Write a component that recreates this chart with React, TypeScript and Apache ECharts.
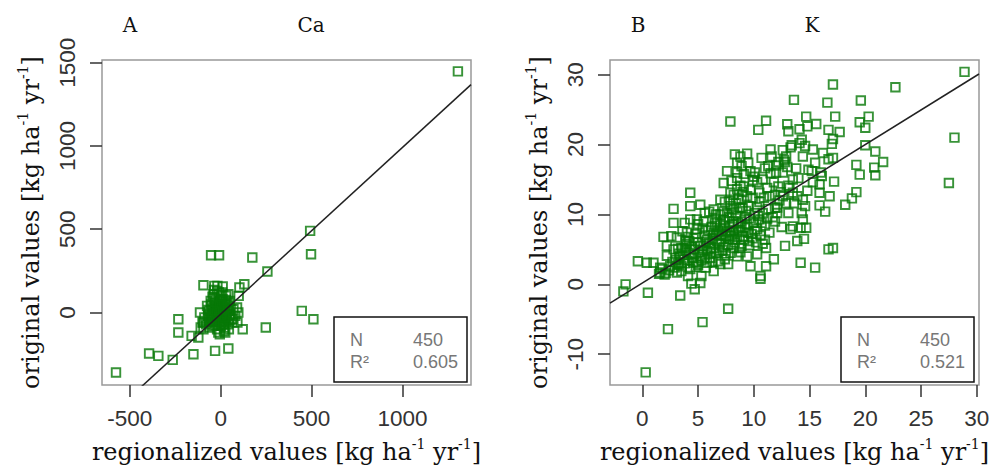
import React, { useEffect, useRef } from "react";
import * as echarts from "echarts";

// Tick labels
const caTicksX = [-500, 0, 500, 1000];
const caTicksY = [0, 500, 1000, 1500];
const kTicksX = [0, 5, 10, 15, 20, 25, 30];
const kTicksY = [-10, 0, 10, 20, 30];

// Axis extents (R default 4% padding)
const caRangeX = [-653, 1377];
const caRangeY = [-435, 1516];
const kRangeX = [-2.9, 30.2];
const kRangeY = [-14.4, 32.1];

// Panel labels
const panelLetters = ["A", "B"];
const panelElements = ["Ca", "K"];

// Fit lines
const caFit = { slope: 1.0, intercept: -9 };
const kFit = { slope: 0.99, intercept: 0.2 };

// Statistics
const caStats = { n: "450", r2: "0.605" };
const kStats = { n: "450", r2: "0.521" };

// Ca: [regionalized, original]
const caPoints: [number, number][] = [
  [1305, 1448], [492, 490], [497, 350], [446, 10], [510, -40], [248, -90], [257, 246],
  [174, 330], [-53, 344], [-9, 344], [-95, 164], [-35, 160], [11, 156], [103, 150],
  [130, 170], [99, 100], [42, 110], [-40, 110], [121, -100], [-233, -40], [-233, -120],
  [-123, -150], [-160, -140], [-150, -250], [-31, -230], [42, -216], [-264, -284],
  [-394, -246], [-343, -260], [-576, -360], [-13, -120], [18, -110], [-114, 0], [-95, -60],
  [92, -60], [97, 0], [70, -40],
  [-70, -20], [-60, 10], [-50, -40], [-45, 30], [-40, -10], [-35, 60], [-30, -60], [-25, 20],
  [-20, -30], [-15, 40], [-10, -5], [-5, 70], [0, -20], [5, 15], [10, -50], [15, 30],
  [20, -10], [25, 50], [30, -30], [35, 10], [40, -70], [45, 40], [50, -15], [55, 20],
  [60, -40], [-80, -70], [-60, -90], [-40, -80], [-20, -100], [0, -80], [20, -90],
  [-55, 70], [-30, 90], [-10, 120], [10, 80], [30, 100], [50, 70], [70, 20], [-90, -30],
  [-75, 40], [65, -60], [80, -20], [-65, -55], [-12, -45], [8, 45], [28, -55], [-28, -75],
  [38, 65], [-48, -15], [12, 5], [-5, -130], [-95, -100], [-110, -90], [-100, -60],
  [90, 30], [-20, 130], [25, -120], [45, -100],
  [-50, 0], [-30, 30], [-15, -15], [5, 40], [20, 20], [35, -10], [-42, -35], [-8, 25],
  [15, -35], [-22, 55], [28, 75], [-58, -28], [2, 100], [-18, 160], [-36, 135],
  [-68, 15], [-52, 48], [-38, -55], [-24, -8], [-3, -55], [18, 58], [32, 32], [48, -42],
  [-62, -48], [-6, 48], [12, -72], [40, 12], [-33, 12], [22, -28], [-45, 95], [8, 120],
];

// K: [regionalized, original]
const kPoints: [number, number][] = [
  [28.9, 30.4], [22.7, 28.2], [17.1, 28.6], [13.6, 26.4], [16.6, 26.0], [19.6, 26.3],
  [7.9, 23.3], [11.1, 23.4], [10.4, 22.1], [13.0, 22.9], [14.7, 24.0], [15.6, 22.95],
  [17.3, 24.0], [20.3, 24.0], [19.5, 23.2], [20.0, 22.4], [17.7, 21.8], [16.7, 22.1],
  [14.1, 22.2], [13.1, 21.9], [14.8, 22.6], [28.0, 21.0], [20.0, 19.9], [20.9, 19.0],
  [21.6, 17.5], [20.8, 16.7], [20.9, 15.6], [19.5, 15.7], [19.2, 17.1], [27.5, 14.5],
  [19.2, 13.2], [18.8, 12.3], [18.2, 11.4], [17.2, 14.7], [16.8, 12.6], [16.4, 10.4],
  [15.9, 11.3], [15.9, 13.1], [15.9, 14.3], [16.1, 15.5], [15.2, 16.2], [17.1, 5.2],
  [16.7, 5.0], [15.5, 2.4], [14.2, 3.1], [17.1, 18.1], [16.7, 17.9], [16.2, 18.8],
  [17.0, 20.1], [17.1, 20.8], [15.3, 19.3], [14.4, 18.3], [14.6, 19.8], [14.1, 20.2],
  [13.4, 19.9], [12.9, 18.3], [14.3, 20.7], [12.8, 17.5], [12.2, 17.5], [11.5, 19.3],
  [11.6, 18.3], [10.7, 18.1], [11.3, 16.9], [12.0, 16.0], [12.6, 16.0], [13.1, 14.1],
  [13.5, 15.0], [13.9, 12.6], [13.5, 13.1], [14.4, 12.1], [14.6, 11.2], [14.3, 10.2],
  [14.4, 9.3], [14.7, 8.1], [14.2, 8.1], [14.5, 6.5], [13.9, 6.2], [13.3, 7.9],
  [13.5, 8.3], [12.5, 8.2], [12.8, 5.5], [11.9, 9.0], [12.1, 10.2], [11.9, 10.95],
  [12.3, 12.0], [12.6, 12.6], [12.9, 11.6], [13.1, 10.2], [11.8, 3.6], [11.1, 2.6],
  [10.6, 1.2], [10.6, 0.8], [9.7, 2.6], [10.3, 4.3], [9.4, 4.0], [8.9, 5.5], [11.1, 5.2],
  [11.0, 6.4], [11.4, 7.4], [10.5, 9.3], [10.3, 7.9], [10.1, 10.2], [9.5, 11.2],
  [9.9, 12.4], [10.5, 13.1], [11.2, 13.8], [11.4, 12.6], [10.8, 15.0], [10.3, 14.6],
  [9.7, 16.2], [10.1, 16.0], [9.5, 17.4], [9.4, 18.7], [8.8, 18.3], [8.3, 18.6],
  [8.5, 17.4], [8.9, 16.9], [8.5, 16.0], [7.6, 16.2], [8.0, 14.8], [7.3, 14.5],
  [7.9, 13.1], [8.5, 13.6], [9.1, 14.0], [9.4, 12.6], [8.9, 12.1], [7.9, 12.1],
  [7.0, 12.1], [8.2, 10.7], [7.6, 10.2], [8.8, 10.95], [6.4, 10.7], [5.6, 10.2],
  [5.2, 11.4], [4.3, 11.2], [4.3, 13.1], [2.8, 10.8], [2.8, 8.8], [3.8, 8.8], [4.3, 9.3],
  [4.9, 9.3], [5.5, 9.0], [6.5, 9.3], [7.3, 9.3], [8.2, 9.0], [4.9, 7.9], [4.0, 7.4],
  [3.1, 6.7], [1.9, 6.8], [2.6, 6.9], [2.2, 4.1], [1.6, 2.4], [2.0, 1.4], [2.5, 2.6],
  [3.1, 1.7], [3.5, 2.6], [4.1, 1.2], [4.4, 0.1], [4.7, -0.7], [5.2, 0.2], [5.3, 1.2],
  [6.4, 1.9], [7.0, 2.9], [7.4, 3.6], [7.7, 2.9], [7.9, 4.5], [8.5, 4.0], [8.2, 5.2],
  [9.1, 6.4], [9.5, 7.4], [-0.4, 3.3], [0.4, 3.1], [1.0, 3.1], [-1.5, 0.0], [-1.7, -1.0],
  [0.5, -1.2], [3.4, -1.6], [7.7, -3.5], [5.4, -5.4], [2.3, -6.4], [0.3, -12.6],
  [3.9, 4.8], [3.5, 5.2], [5.2, 5.5], [5.8, 6.4], [6.7, 6.2], [6.4, 7.4], [7.1, 7.1],
  [7.9, 7.4], [8.8, 8.3], [5.2, 4.0], [5.8, 3.1], [4.6, 3.1], [3.4, 4.0], [2.8, 5.0],
  [2.2, 5.5], [1.6, 1.7],
  [3.0, 3.5], [3.3, 2.8], [3.6, 4.2], [3.8, 3.0], [4.0, 5.8], [4.2, 4.5], [4.5, 3.8],
  [4.7, 5.0], [4.8, 2.5], [5.0, 6.0], [5.1, 4.6], [5.3, 3.4], [5.5, 5.5], [5.6, 7.0],
  [5.8, 4.8], [6.0, 5.9], [6.1, 3.8], [6.3, 6.6], [6.4, 5.2], [6.6, 4.4], [6.8, 7.6],
  [6.9, 5.8], [7.1, 6.4], [7.2, 4.9], [7.4, 8.4], [7.5, 6.9], [7.7, 5.6], [7.8, 9.6],
  [8.0, 7.0], [8.1, 8.6], [8.3, 6.0], [8.4, 9.8], [8.6, 7.8], [8.7, 5.2], [8.9, 9.0],
  [9.0, 6.9], [9.2, 8.1], [9.3, 10.5], [9.6, 9.4], [9.8, 7.2], [10.0, 8.8], [10.2, 6.0],
  [10.4, 9.8], [10.6, 7.0], [10.8, 5.8], [11.0, 8.4], [6.2, 8.2], [5.4, 8.0], [4.6, 6.6],
  [3.9, 6.2], [3.2, 5.1], [2.7, 3.2], [2.4, 2.0], [6.7, 9.0], [7.3, 10.4], [7.9, 11.2],
  [8.2, 12.8], [8.5, 15.2], [8.8, 14.1], [9.1, 15.8], [9.7, 13.5], [9.9, 14.9],
  [10.5, 11.8], [10.9, 12.4], [11.3, 10.8], [11.7, 9.6], [12.1, 11.0], [12.4, 13.2],
  [11.8, 14.6], [11.5, 15.9], [12.0, 17.0], [12.7, 17.8], [13.3, 19.6], [13.8, 16.6],
  [14.0, 15.2], [14.9, 16.4], [15.5, 17.4], [13.2, 13.8], [13.6, 11.6], [14.8, 13.4],
  [15.3, 14.6], [16.0, 16.0], [1.5, 1.5], [1.8, 2.2], [2.1, 1.6],
  [3.7, 3.6], [4.3, 2.2], [4.9, 3.2], [5.7, 2.4], [6.2, 4.6], [6.8, 3.3], [7.3, 5.3],
  [7.6, 7.6], [8.1, 6.4], [8.6, 8.8], [9.4, 8.6], [9.9, 6.6], [5.9, 7.7], [4.4, 5.4],
  [3.3, 4.4], [2.9, 2.4], [6.5, 8.4], [7.0, 10.0], [8.4, 11.6], [9.0, 11.0], [6.0, 10.4],
  [5.0, 8.6], [3.6, 7.6], [4.1, 6.8], [6.9, 6.9], [7.8, 8.2], [8.9, 7.5], [9.6, 5.6],
  [3.2, 3.0], [3.5, 1.9], [4.0, 3.4], [4.2, 6.2], [4.6, 4.3], [5.0, 2.8], [5.4, 4.9],
  [5.7, 6.1], [6.1, 5.2], [6.3, 3.2], [6.6, 7.1], [6.9, 4.8], [7.2, 7.9], [7.5, 4.4],
  [7.8, 6.5], [8.2, 7.6], [8.5, 6.8], [8.8, 4.6], [9.2, 9.6], [9.5, 6.2], [10.1, 7.6],
  [10.7, 8.8], [5.6, 3.8], [4.8, 7.2], [3.8, 5.2], [7.0, 8.6], [8.0, 10.2], [6.6, 10.0],
  [10.3, 11.0], [11.2, 9.4], [9.0, 13.2], [8.6, 12.2], [7.4, 11.8], [10.0, 15.4],
  [11.0, 16.6], [12.2, 14.0], [13.0, 16.8], [12.6, 19.2], [11.9, 12.8], [10.8, 10.2],
];

const SERIF = "'DejaVu Serif', 'Liberation Serif', serif";
const SANS = "'Liberation Sans', Arial, sans-serif";

const unitName = (label: string) =>
  `{a|${label} [kg ha}{s|-1}{a| yr}{s|-1}{a|]}`;

const nameRich = {
  a: { fontSize: 24, fontFamily: SERIF, color: "#111", lineHeight: 30 },
  s: { fontSize: 14, fontFamily: SERIF, color: "#111", lineHeight: 30, verticalAlign: "top" as const },
};

function makeAxis(
  gridIndex: number,
  range: number[],
  ticks: number[],
  isY: boolean,
  name: string
) {
  return {
    type: "value" as const,
    gridIndex,
    min: range[0],
    max: range[1],
    axisLine: { show: false, onZero: false },
    splitLine: { show: false },
    axisTick: {
      show: true,
      inside: false,
      length: 12,
      customValues: ticks,
      lineStyle: { color: "#333", width: 1.5 },
    },
    axisLabel: {
      customValues: ticks,
      formatter: (v: number) => String(v),
      fontSize: 22.5,
      fontFamily: SANS,
      color: "#333",
      margin: isY ? 23 : 22,
      rotate: isY ? 90 : 0,
    },
    name,
    nameLocation: "middle" as const,
    nameGap: isY ? 56 : 52,
    nameRotate: isY ? 90 : 0,
    nameTextStyle: { rich: nameRich },
  };
}

function fitLine(range: number[], fit: { slope: number; intercept: number }) {
  return range.map((x) => [x, fit.slope * x + fit.intercept]);
}

function statsBox(left: number, stats: { n: string; r2: string }) {
  const txt = (text: string, x: number, y: number) => ({
    type: "text",
    x,
    y,
    z: 101,
    style: {
      text,
      fontSize: 18,
      fontFamily: SANS,
      fill: "#777",
      verticalAlign: "middle",
      textAlign: "left",
    },
  });
  return [
    {
      type: "rect",
      z: 100,
      shape: { x: left, y: 317, width: 133, height: 65 },
      style: { fill: "#fff", stroke: "#111", lineWidth: 1.5 },
    },
    txt("N", left + 16, 340),
    txt(stats.n, left + 79, 340),
    txt("R²", left + 16, 362),
    txt(stats.r2, left + 79, 362),
  ];
}

function titleText(text: string, x: number) {
  return {
    type: "text",
    x,
    y: 25,
    style: {
      text,
      fontSize: 20,
      fontFamily: SERIF,
      fill: "#111",
      textAlign: "center",
      verticalAlign: "middle",
    },
  };
}

export default function App() {
  const ref = useRef<HTMLDivElement>(null);

  useEffect(() => {
    if (!ref.current) return;
    const chart = echarts.init(ref.current, undefined, { renderer: "svg" });
    const scatterStyle = {
      symbol: "rect",
      symbolSize: 8.5,
      itemStyle: { color: "rgba(0,0,0,0)", borderColor: "#067806", borderWidth: 1.9 },
    };
    chart.setOption({
      animation: false,
      backgroundColor: "#fff",
      grid: [
        { left: 102, top: 60, width: 369, height: 326, show: true, borderColor: "#999", borderWidth: 1.5, backgroundColor: "transparent" },
        { left: 610, top: 60, width: 369, height: 326, show: true, borderColor: "#999", borderWidth: 1.5, backgroundColor: "transparent" },
      ],
      xAxis: [
        makeAxis(0, caRangeX, caTicksX, false, unitName("regionalized values")),
        makeAxis(1, kRangeX, kTicksX, false, unitName("regionalized values")),
      ],
      yAxis: [
        makeAxis(0, caRangeY, caTicksY, true, unitName("original values")),
        makeAxis(1, kRangeY, kTicksY, true, unitName("original values")),
      ],
      series: [
        { type: "scatter", xAxisIndex: 0, yAxisIndex: 0, data: caPoints, ...scatterStyle },
        { type: "scatter", xAxisIndex: 1, yAxisIndex: 1, data: kPoints, ...scatterStyle },
        {
          type: "line", xAxisIndex: 0, yAxisIndex: 0, data: fitLine(caRangeX, caFit),
          showSymbol: false, clip: true, lineStyle: { color: "#222", width: 1.5 }, z: 5,
        },
        {
          type: "line", xAxisIndex: 1, yAxisIndex: 1, data: fitLine(kRangeX, kFit),
          showSymbol: false, clip: true, lineStyle: { color: "#222", width: 1.5 }, z: 5,
        },
      ],
      graphic: [
        titleText(panelLetters[0], 130),
        titleText(panelElements[0], 311),
        titleText(panelLetters[1], 638),
        titleText(panelElements[1], 812),
        ...statsBox(334, caStats),
        ...statsBox(841, kStats),
      ],
    });
    return () => chart.dispose();
  }, []);

  return (
    <div
      ref={ref}
      style={{ position: "fixed", left: 0, top: 0, width: 1000, height: 469 }}
    />
  );
}
